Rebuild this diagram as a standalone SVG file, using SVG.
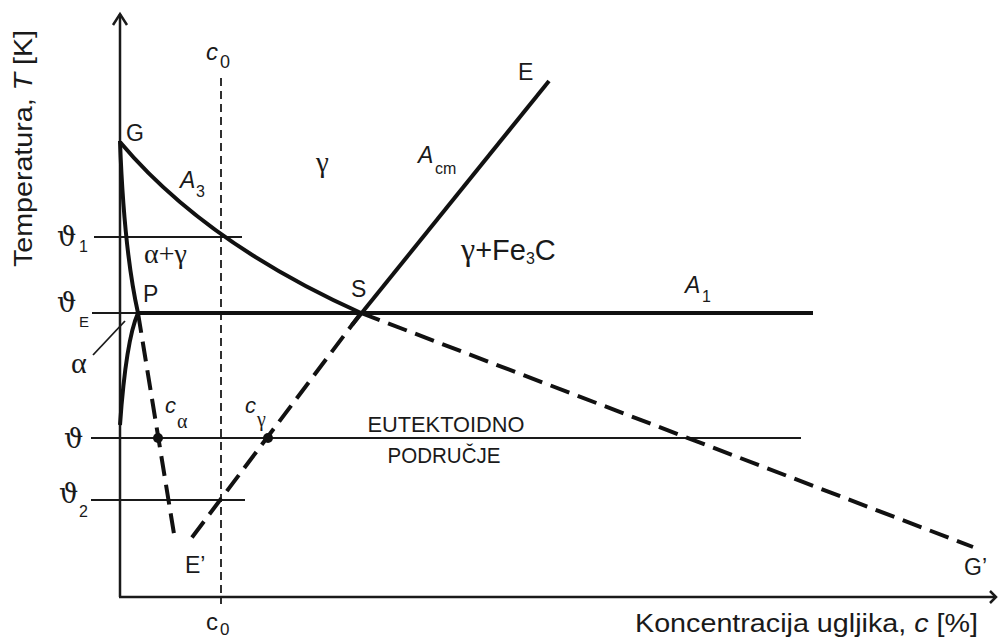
<svg xmlns="http://www.w3.org/2000/svg" width="998" height="639" viewBox="0 0 998 639">
<style>
.thin{stroke:#1a1a1a;stroke-width:1.8;fill:none}
.axis{stroke:#1a1a1a;stroke-width:2.5;fill:none}
.thick{stroke:#111;stroke-width:4;fill:none}
.dash{stroke:#111;stroke-width:4;fill:none;stroke-dasharray:20 9}
.vdash{stroke:#1a1a1a;stroke-width:1.8;fill:none;stroke-dasharray:8 5}
text{fill:#1a1a1a;font-family:"Liberation Sans",Arial,sans-serif}
.pt{font-size:23px}
.gr{font-family:"Liberation Serif","DejaVu Serif",serif}
.th{font-family:"DejaVu Serif","Liberation Serif",serif;font-size:27px}
.it{font-style:italic}
.sub{font-size:16px}
</style>
<rect width="998" height="639" fill="#fff"/>
<g id="axes">
<line class="axis" x1="120" y1="14" x2="120" y2="597"/>
<polyline class="axis" points="113,25 120,14 127,25"/>
<line class="axis" x1="119" y1="597" x2="996" y2="597"/>
<polyline class="axis" points="990,591 996,597 990,603"/>
<text transform="translate(32,148.5) rotate(-90)" font-size="25" text-anchor="middle" textLength="237" lengthAdjust="spacingAndGlyphs">Temperatura, <tspan class="it">T</tspan> [K]</text>
<text x="635" y="632" font-size="25" textLength="343" lengthAdjust="spacingAndGlyphs">Koncentracija ugljika, <tspan class="it">c</tspan> [%]</text>
</g>
<g id="isotherms">
<line class="thin" x1="94" y1="237" x2="242" y2="237"/>
<line class="thin" x1="92" y1="313" x2="138" y2="313"/>
<line class="thin" x1="91" y1="438" x2="801" y2="438"/>
<line class="thin" x1="91" y1="500" x2="245" y2="500"/>
<text class="th" x="57" y="246">ϑ</text><text class="sub" x="79" y="252">1</text>
<text class="th" x="57" y="312">ϑ</text><text x="79" y="327" font-size="15">E</text>
<text class="th" x="64" y="448">ϑ</text>
<text class="th" x="59" y="503">ϑ</text><text class="sub" x="79" y="517">2</text>
</g>
<g id="c0">
<line class="vdash" x1="221" y1="78" x2="221" y2="604"/>
<text class="it" x="206" y="60" font-size="24">c</text><text x="220" y="68" font-size="18">0</text>
<text x="206" y="630" font-size="24">c</text><text x="220" y="635" font-size="17">0</text>
</g>
<g id="connectors">
<path class="thick" d="M120,141 Q124,250 138,313"/>
<path class="thick" d="M138,313 Q126,340 120,425"/>
<path class="thick" d="M120,142 Q205,243 361,313"/>
<line class="thick" x1="138" y1="313" x2="813" y2="313"/>
<line class="thick" x1="549" y1="81" x2="352" y2="325"/>
<line class="dash" x1="138" y1="313" x2="175" y2="540"/>
<line class="dash" x1="361" y1="313" x2="190" y2="540"/>
<line class="dash" x1="361" y1="313" x2="973" y2="547"/>
<line class="thin" x1="93" y1="355" x2="125" y2="321"/>
</g>
<g id="points">
<circle cx="158" cy="438" r="5" fill="#111"/>
<circle cx="268" cy="438" r="5" fill="#111"/>
<text class="pt" x="126" y="141">G</text>
<text class="pt" x="143" y="302">P</text>
<text class="pt" x="351" y="297">S</text>
<text class="pt" x="518" y="80">E</text>
<text class="pt" x="185" y="573">E’</text>
<text class="pt" x="964" y="575">G’</text>
<text class="it" x="165" y="413" font-size="22">c</text><text class="gr" x="177" y="428" font-size="20">α</text>
<text class="it" x="245" y="413" font-size="22">c</text><text class="gr" x="257" y="426" font-size="20">γ</text>
</g>
<g id="labels">
<text class="it" x="180" y="188" font-size="23">A</text><text class="sub" x="196" y="197">3</text>
<text class="it" x="418" y="163" font-size="23">A</text><text class="sub" x="435" y="174">cm</text>
<text class="it" x="685" y="293" font-size="23">A</text><text class="sub" x="702" y="302">1</text>
<text class="gr" x="316" y="172" font-size="29">γ</text>
<text class="gr" x="144" y="263" font-size="28">α+γ</text>
<text class="gr" x="71" y="373" font-size="30">α</text>
<text x="461" y="260" font-size="29"><tspan class="gr" font-size="32">γ</tspan>+Fe<tspan font-size="16" dy="4">3</tspan><tspan dy="-4">C</tspan></text>
<text x="446" y="432" font-size="22" text-anchor="middle" textLength="157" lengthAdjust="spacingAndGlyphs">EUTEKTOIDNO</text>
<text x="444" y="463" font-size="22" text-anchor="middle" textLength="113" lengthAdjust="spacingAndGlyphs">PODRUČJE</text>
</g>
</svg>
